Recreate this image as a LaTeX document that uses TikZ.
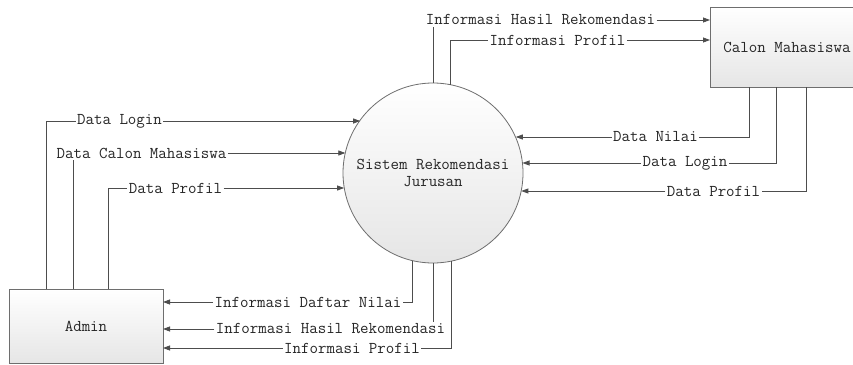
\documentclass[tikz,border=0pt]{standalone}
\usepackage{fontspec}
\usetikzlibrary{arrows.meta,calc}
\definecolor{linec}{HTML}{4D4D4D}
\definecolor{borderc}{HTML}{6E6E6E}
\newcommand\mainsz{\ttfamily\fontsize{16.48pt}{17pt}\selectfont}
\tikzset{
  ent/.style={draw=borderc, line width=0.8pt, top color=white, bottom color=black!10, inner sep=0pt, outer sep=0pt},
  lbl/.style={inner sep=1.5pt, outer sep=0pt},
  flow/.style={draw=linec, line width=0.8pt},
  arr/.style={flow, -{Triangle[length=7pt,width=5pt]}},
}
\begin{document}
\begin{tikzpicture}[x=1pt,y=-1pt,font=\mainsz,text=black!85]
\useasboundingbox (0,0) rectangle (853,364);
\clip (0,0) rectangle (853,364);
\fill[white] (0,0) rectangle (853,364);
% entities
\node[ent, minimum width=154pt, minimum height=74pt] (admin) at (86,326) {Admin};
\node[ent, minimum width=154pt, minimum height=80pt] (calon) at (787,47) {Calon Mahasiswa};
\node[ent, circle, minimum size=180pt, align=center] (c) at (433,173) {Sistem Rekomendasi\\Jurusan};
% stub coordinates
\coordinate (ad1) at ([xshift=37pt]admin.north west);
\coordinate (ad2) at ([xshift=64pt]admin.north west);
\coordinate (ad3) at ([xshift=99pt]admin.north west);
\coordinate (cs1) at ([xshift=39pt]calon.south west);
\coordinate (cs2) at ([xshift=66pt]calon.south west);
\coordinate (cs3) at ([xshift=96pt]calon.south west);
% labels
\node[lbl] (a1) at (119.5,121) {Data Login};
\node[lbl] (a2) at (141.5,153) {Data Calon Mahasiswa};
\node[lbl] (a3) at (175.5,188) {Data Profil};
\node[lbl] (b1) at (308,302) {Informasi Daftar Nilai};
\node[lbl] (b2) at (330.5,329) {Informasi Hasil Rekomendasi};
\node[lbl] (b3) at (352,348) {Informasi Profil};
\node[lbl] (t1) at (540.5,20) {Informasi Hasil Rekomendasi};
\node[lbl] (t2) at (557.5,40) {Informasi Profil};
\node[lbl] (r1) at (655.5,137) {Data Nilai};
\node[lbl] (r2) at (685,163) {Data Login};
\node[lbl] (r3) at (713.5,191) {Data Profil};
% admin -> system
\draw[flow] (ad1) |- (a1.west);
\draw[arr] (a1.east) -- (a1.east -| c.144.7);
\draw[flow] (ad2) -- (ad2 |- a2.south);
\draw[arr] (a2.east) -- (a2.east -| c.167.16);
\draw[flow] (ad3) |- (a3.west);
\draw[arr] (a3.east) -- (a3.east -| c.189.59);
% system -> admin
\draw[flow] (c.257.16) |- (b1.east);
\draw[arr] (b1.west) -- (b1.west -| admin.east);
\draw[flow] (c.270.64) -- (c.270.64 |- b2.north);
\draw[arr] (b2.west) -- (b2.west -| admin.east);
\draw[flow] (c.282.84) |- (b3.east);
\draw[arr] (b3.west) -- (b3.west -| admin.east);
% system -> calon
\draw[flow] (c.90.64) -- (c.90.64 |- t1.south);
\draw[arr] (t1.east) -- (t1.east -| calon.west);
\draw[flow] (c.79.11) |- (t2.west);
\draw[arr] (t2.east) -- (t2.east -| calon.west);
% calon -> system
\draw[flow] (cs1) |- (r1.east);
\draw[arr] (r1.west) -- (r1.west -| c.23.58);
\draw[flow] (cs2) |- (r2.east);
\draw[arr] (r2.west) -- (r2.west -| c.6.38);
\draw[flow] (cs3) |- (r3.east);
\draw[arr] (r3.west) -- (r3.west -| c.-11.54);
\end{tikzpicture}
\end{document}
